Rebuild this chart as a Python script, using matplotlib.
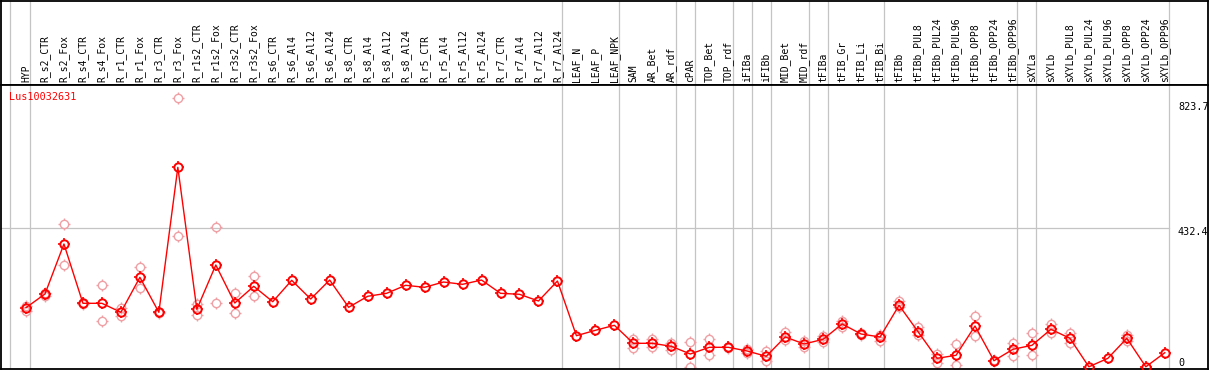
import matplotlib
matplotlib.use("Agg")
import matplotlib.pyplot as plt
from matplotlib.path import Path
import numpy as np

# ---------------- data ----------------
title = "Lus10032631"
labels = ["HYP", "R_s2_CTR", "R_s2_Fox", "R_s4_CTR", "R_s4_Fox", "R_r1_CTR", "R_r1_Fox",
          "R_r3_CTR", "R_r3_Fox", "R_r1s2_CTR", "R_r1s2_Fox", "R_r3s2_CTR", "R_r3s2_Fox",
          "R_s6_CTR", "R_s6_Al4", "R_s6_Al12", "R_s6_Al24", "R_s8_CTR", "R_s8_Al4",
          "R_s8_Al12", "R_s8_Al24", "R_r5_CTR", "R_r5_Al4", "R_r5_Al12", "R_r5_Al24",
          "R_r7_CTR", "R_r7_Al4", "R_r7_Al12", "R_r7_Al24", "LEAF_N", "LEAF_P", "LEAF_NPK",
          "SAM", "AR_Bet", "AR_rdf", "cPAR", "TOP_Bet", "TOP_rdf", "iFIBa", "iFIBb",
          "MID_Bet", "MID_rdf", "tFIBa", "tFIB_Gr", "tFIB_Li", "tFIB_Bi", "tFIBb",
          "tFIBb_PUL8", "tFIBb_PUL24", "tFIBb_PUL96", "tFIBb_OPP8", "tFIBb_OPP24",
          "tFIBb_OPP96", "sXYLa", "sXYLb", "sXYLb_PUL8", "sXYLb_PUL24", "sXYLb_PUL96",
          "sXYLb_OPP8", "sXYLb_OPP24", "sXYLb_OPP96"]

means = [184.6, 227.4, 383.5, 198.3, 198.3, 170.2, 279.5, 170.2, 623.0, 179.6, 317.9,
         199.2, 251.4, 203.3, 270.1, 211.7, 271.0, 185.8, 220.2, 229.5, 254.5, 248.3,
         264.8, 257.6, 271.0, 229.5, 226.4, 205.5, 267.9, 97.1, 114.0, 129.6,
         73.4, 73.4, 64.0, 40.0, 60.9, 60.9, 49.3, 32.8, 93.1, 71.2, 85.9, 133.7,
         102.4, 93.1, 192.1, 109.6, 26.5, 35.9, 127.4, 19.0, 54.7, 67.1, 117.1, 89.0,
         0.0, 26.5, 89.0, 0.0, 44.0]

replicates = [
    [190.8, 174.3], [222.0, 232.0], [446.0, 317.5], [196.0, 200.0], [254.5, 142.0],
    [182.7, 159.6], [310.7, 245.2], [168.0, 172.0], [839.0, 408.5], [196.1, 162.7],
    [435.7, 198.3], [229.5, 167.1], [282.6, 220.2],
    [], [], [], [], [], [], [], [], [], [], [], [], [], [], [], [], [], [], [],
    [86.8, 57.8], [85.9, 62.8], [75.3, 52.5], [77.5, 0.0], [85.9, 35.9], [58.0, 63.0],
    [56.5, 43.1], [49.3, 18.1], [109.6, 83.7], [80.6, 62.8], [97.1, 77.5],
    [142.1, 125.2], [100.0, 105.0], [98.4, 80.6], [204.6, 187.7], [125.2, 99.3],
    [40.0, 12.8], [70.3, 4.7], [158.6, 96.2], [17.0, 21.0], [74.3, 32.8],
    [104.6, 36.9], [132.7, 106.5], [106.5, 73.4], [], [], [99.3, 80.6], [], [],
]

group_ends = [0, 28, 31, 34, 35, 37, 38, 39, 41, 42, 45, 52, 53, 60]
ytick_values = [0, 432.4, 823.7]
ytick_labels = ["0", "432.4", "823.7"]

# ---------------- figure ----------------
W, H = 1209, 370
fig = plt.figure(figsize=(W / 100, H / 100), dpi=100)

def fx(px):
    return px / W

def fy(py):
    return 1 - py / H

left, right = 1, 1208
head_top, head_bot = 0.5, 85
plot_bot = 369

ax_head = fig.add_axes([fx(left), fy(head_bot), fx(right - left), (head_bot - head_top) / H])
ax = fig.add_axes([fx(left), fy(plot_bot), fx(right - left), (plot_bot - head_bot) / H])

x0_px, step_px = 26.0, 18.98
xlim = ((left - x0_px) / step_px, (right - x0_px) / step_px)
px_per_val = 1 / 3.123
zero_px = 366.8
ylim = ((zero_px - plot_bot) / px_per_val, (zero_px - head_bot) / px_per_val)

for a in (ax, ax_head):
    a.set_xlim(*xlim)
    a.set_xticks([])
    a.set_yticks([])
    for s in a.spines.values():
        s.set_color("black")
        s.set_linewidth(1.3)
ax.set_ylim(*ylim)
ax_head.set_ylim(0, 1)

x = np.arange(len(labels))
gray = "#c4c4c4"
vlines = [-0.84] + [g + 0.23 for g in group_ends]
for v in vlines:
    ax.axvline(v, color=gray, lw=0.9, zorder=1)
    ax_head.axvline(v, color=gray, lw=0.9, zorder=1)

ax.plot([xlim[0], vlines[-1]], [ytick_values[1], ytick_values[1]], color=gray, lw=0.9, zorder=1)

# tick marks around the circle markers
t_in, t_out = 0.72, 1.0
ticks = Path([(0, t_in), (0, t_out), (0, -t_in), (0, -t_out),
              (t_in, 0), (t_out, 0), (-t_in, 0), (-t_out, 0)],
             [Path.MOVETO, Path.LINETO] * 4)

pink = "#f0a0a4"
red = "#ff0000"
rx, ry = [], []
for i, reps in enumerate(replicates):
    for r in reps:
        rx.append(x[i])
        ry.append(r)

circle_ms = 6.0
tick_ms = 8.4
ax.plot(rx, ry, linestyle="none", marker="o", markersize=circle_ms, markerfacecolor="none",
        markeredgecolor=pink, markeredgewidth=1.0, zorder=2)
ax.plot(rx, ry, linestyle="none", marker=ticks, markersize=tick_ms, markerfacecolor="none",
        markeredgecolor=pink, markeredgewidth=1.0, zorder=2)

ax.plot(x, means, color=red, lw=1.0, zorder=3)
ax.plot(x, means, linestyle="none", marker="o", markersize=circle_ms, markerfacecolor="none",
        markeredgecolor=red, markeredgewidth=1.4, zorder=4)
ax.plot(x, means, linestyle="none", marker=ticks, markersize=tick_ms, markerfacecolor="none",
        markeredgecolor=red, markeredgewidth=1.2, zorder=4)

# header labels
for i, lab in enumerate(labels):
    ax_head.text(x[i], 0.03, lab, rotation=90, ha="center", va="bottom",
                 family="DejaVu Sans Mono", fontsize=7, color="black")

# title
fig.text(fx(9), fy(92), title, color=red, family="DejaVu Sans Mono", fontsize=7.3,
         ha="left", va="top")

# y labels on the right
label_x = fx(1178)
for v, s in zip(ytick_values, ytick_labels):
    py = zero_px - v * px_per_val
    if v == 0:
        py = 359
    fig.text(label_x, fy(py - 1), s, family="DejaVu Sans Mono", fontsize=7.3,
             ha="left", va="top", color="black")

fig.savefig("out.png", dpi=100)
